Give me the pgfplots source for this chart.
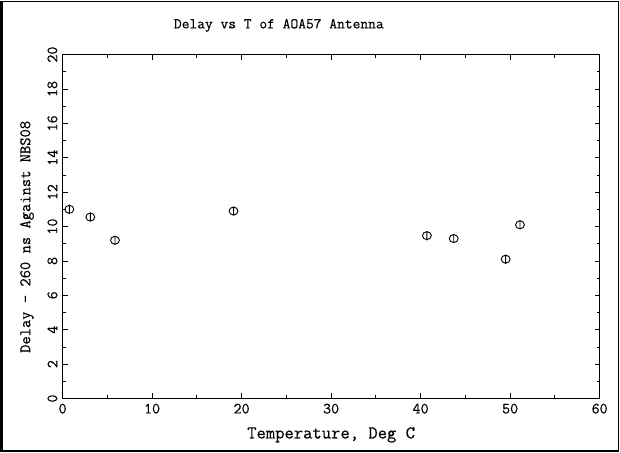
\documentclass[border=0pt]{standalone}
\usepackage{fontspec}
\newfontfamily\pf{Latin Modern Mono}[FakeBold=0.35]
\usepackage{pgfplots}
\pgfplotsset{compat=1.18}
\pgfdeclareplotmark{phi}{%
  \pgfpathellipse{\pgfpoint{0pt}{0pt}}{\pgfpoint{1.1\pgfplotmarksize}{0pt}}{\pgfpoint{0pt}{\pgfplotmarksize}}%
  \pgfpathmoveto{\pgfpoint{0pt}{-1.15\pgfplotmarksize}}%
  \pgfpathlineto{\pgfpoint{0pt}{1.15\pgfplotmarksize}}%
  \pgfusepathqstroke}
\begin{document}
\begin{tikzpicture}[x=1pt,y=1pt]
\begin{axis}[
  at={(0,0)}, anchor=south west,
  width=534pt, height=342pt, scale only axis,
  xmin=0, xmax=60, ymin=0, ymax=20,
  xtick={0,10,...,60}, ytick={0,2,...,20},
  minor x tick num=1, minor y tick num=1,
  tick align=inside,
  major tick length=5pt, minor tick length=3pt,
  axis line style={line width=1.3pt},
  tick style={line width=0.8pt, black},
  /pgf/number format/assume math mode=true,
  ticklabel style={font=\pf\fontsize{15.5}{17}\selectfont},
  yticklabel style={rotate=90, anchor=south, inner xsep=1pt, inner ysep=5pt},
  xticklabel style={inner sep=1pt, yshift=-4pt},
  xlabel={Temperature, Deg C},
  ylabel={Delay - 260 ns Against NBS08},
  xlabel style={font=\pf\fontsize{18}{20}\selectfont, at={(axis description cs:0.5,0)}, anchor=north, yshift=-25pt},
  ylabel style={font=\pf\fontsize{16}{18}\selectfont, at={(axis description cs:0,0.47)}, anchor=south, yshift=25pt},
]
\addplot[only marks, mark=phi, mark size=4pt, mark options={line width=0.9pt, black}] coordinates {
(0.75,11.0)
(3.1,10.55)
(5.85,9.2)
(19.1,10.9)
(40.7,9.47)
(43.7,9.3)
(49.5,8.1)
(51.1,10.1)
};
\end{axis}
\node[font=\pf\fontsize{15}{17}\selectfont] at (215,371) {Delay vs T of AOA57 Antenna};
\draw[line width=1.2pt] (-61,-52) rectangle (553,395);
\draw[line width=2.5pt] (-61,395) -- (-61,-52) -- (553,-52);
\end{tikzpicture}
\end{document}
